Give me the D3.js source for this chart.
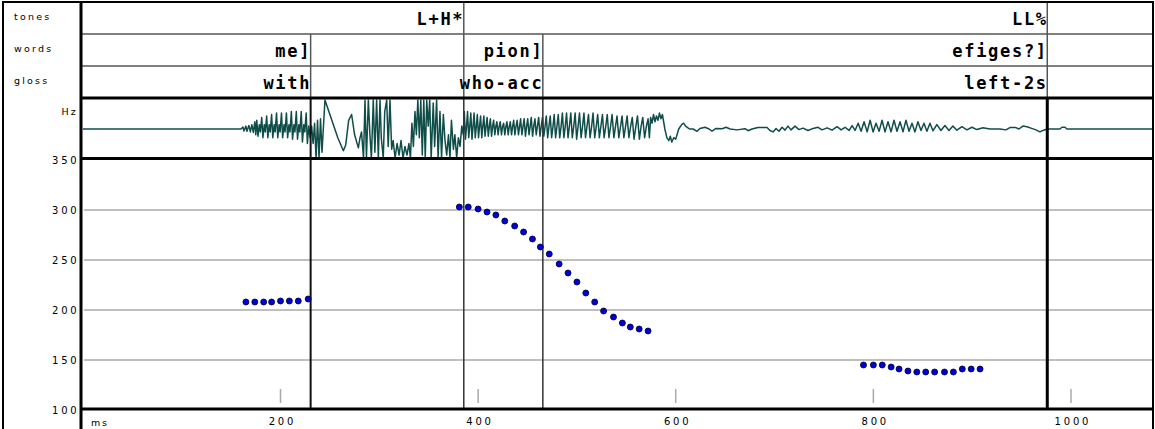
<!DOCTYPE html>
<html>
<head>
<meta charset="utf-8">
<script src="https://cdn.jsdelivr.net/npm/d3@7"></script>
<style>
  html, body { margin: 0; padding: 0; background: #fff; }
  svg { display: block; }
</style>
</head>
<body>
<svg id="chart" width="1155" height="429"></svg>
<script>
// ---- F0 track: three voiced stretches (time in ms, pitch in Hz) ----
const f0Times = [165, 174, 183, 191, 200, 209, 218, 228,
                 381, 390, 400, 409, 418, 427, 437, 446, 455, 463, 472, 482, 491, 500, 509, 518, 527, 537, 546, 554, 563, 572,
                 790, 800, 809, 818, 826, 835, 844, 853, 862, 872, 881, 890, 899, 908];
const f0Hz    = [208, 208, 208, 208, 209, 209, 209, 211,
                 303, 303, 301, 298, 295, 289, 284, 278, 271, 263, 256, 246, 237, 228, 217, 208, 199, 193, 187, 183, 181, 179,
                 145, 145, 145, 143, 141, 139, 138, 138, 138, 138, 138, 141, 141, 141];

// ---- Annotation tiers (label and right boundary in ms) ----
const tierNames   = ["tones", "words", "gloss"];
const toneLabels  = ["L+H*", "LL%"];
const toneEnds    = [385.5, 976];
const wordLabels  = ["me]", "pion]", "efiges?]"];
const wordEnds    = [230.5, 465.5, 976];
const glossLabels = ["with", "who-acc", "left-2s"];
const glossEnds   = [230.5, 465.5, 976];

// ---- Axis ticks ----
const hzTicks = [350, 300, 250, 200, 150, 100];
const hzGrid  = [300, 250, 200, 150];
const msTicks = [200, 400, 600, 800, 1000];

// ---- Speech waveform: [ms, relative amplitude] ----
const wavePoints = [
  [0,0],[160,0],
  [162,0.07],[163,-0.07],[165,0.1],[166,-0.08],[168,0.12],[169.5,-0.1],[171,0.15],[172.5,-0.12],[174,0.25],[175,-0.2],
  [176,0.3],[177.2,-0.25],[178.6,0.15],[179.6,-0.1],
  [181,0.4],[182.2,-0.3],[183.6,0.15],[184.6,-0.1],
  [186,0.45],[187.2,-0.3],[188.6,0.15],[189.6,-0.1],
  [191,0.5],[192.2,-0.3],[193.6,0.15],[194.6,-0.1],
  [196,0.55],[197.2,-0.3],[198.6,0.15],[199.6,-0.1],
  [201,0.55],[202.2,-0.3],[203.6,0.15],[204.6,-0.1],
  [206,0.55],[207.2,-0.3],[208.6,0.15],[209.6,-0.1],
  [211,0.6],[212.2,-0.35],[213.6,0.15],[214.6,-0.1],
  [216,0.6],[217.2,-0.35],[218.6,0.15],[219.6,-0.1],
  [221,0.6],[222.2,-0.45],[223.6,0.15],[224.6,-0.1],
  [226,0.55],[227.2,-0.5],[228.6,0.1],
  [230,-0.3],[231.5,0.1],[233,-0.5],[234.5,0.2],[236,-1.1],[237.5,0.3],[239,-1.1],[240.5,0.35],[242,-0.8],
  [245,1.1],[248,0.7],[253,0.2],[258,-0.3],[263.6,-0.75],[266,-0.55],[269,0.3],[272,0.5],[275,-0.2],
  [278.8,-0.65],[280.5,-0.3],[282,-0.1],[284,-1.1],[285.5,1.1],[287,-1.1],[288.9,1.1],[290.5,-0.2],
  [292,-1.1],[293.9,1.1],[295.5,-0.8],[297.3,1.1],[299,-1.1],[300.7,1.1],[302,-0.3],[304,-1.1],
  [305.5,0.6],[307.5,1.1],[309,-0.6],[310.8,1.1],[312.5,-0.7],[314,-0.4],[316,-1.1],[318,-0.5],
  [320,-0.9],[322,-0.4],[324,-1.1],[326,-0.6],[328,-0.9],[330,-0.5],[331.5,-1.0],[333,0.2],
  [334.5,-0.6],[336.1,0.6],[337.5,-0.2],[339,1.1],[340.5,-0.3],[342,1.1],[343.5,-0.9],[345,1.1],
  [346.5,-1.1],[348,1.1],[349.5,0.1],[351,1.1],[352.5,-1.1],[354.6,0.9],[356,-0.6],[358,1.1],
  [359.5,-1.1],[361.4,0.6],[363,-1.1],[364.8,0.5],[366.5,-0.4],[368.2,-0.9],[370,-0.2],[371.5,-1.0],
  [373,0.3],[375,-0.7],[376.5,-0.2],[378.3,-1.0],[380,-0.3],[381.7,-0.6],[383.5,0.1],[385,-0.2],
  [386,0.6],[387.2,-0.35],[388.3,0.1],
  [389.3,0.6],[390.5,-0.3],[391.6,0.1],
  [392.6,0.55],[393.8,-0.35],[394.9,0.1],
  [395.9,0.55],[397.1,-0.3],[398.2,0.1],
  [399.2,0.5],[400.4,-0.3],[401.5,0.1],
  [402.5,0.45],[403.7,-0.3],[404.8,0.1],
  [405.8,0.45],[407,-0.25],[408.1,0.1],
  [409.1,0.4],[410.3,-0.25],[411.4,0.1],
  [412.4,0.35],[413.6,-0.25],[414.7,0.1],
  [415.7,0.3],[416.9,-0.2],[418,0.1],
  [419,0.25],[420.2,-0.2],[421.3,0.08],
  [422.4,0.25],[423.6,-0.2],[424.7,0.08],
  [425.8,0.2],[427,-0.2],[428.1,0.08],
  [429.2,0.25],[430.4,-0.2],[431.5,0.08],
  [432.6,0.25],[433.8,-0.2],[434.9,0.08],
  [436,0.3],[437.2,-0.2],[438.3,0.08],
  [439.5,0.3],[440.8,-0.2],[442,0.1],
  [443,0.35],[444.3,-0.2],[445.5,0.1],
  [446.6,0.35],[447.9,-0.25],[449.1,0.1],
  [450.2,0.35],[451.5,-0.2],[452.7,0.1],
  [453.8,0.4],[455.1,-0.25],[456.3,0.1],
  [457.5,0.35],[458.8,-0.2],[460,0.1],
  [461.3,0.4],[462.6,-0.25],[463.9,0.1],
  [465.1,0.4],[466.5,-0.25],[467.8,0.1],
  [469,0.45],[470.4,-0.3],[471.7,0.1],
  [473,0.45],[474.4,-0.3],[475.8,0.1],
  [477,0.5],[478.4,-0.3],[479.8,0.1],
  [481.1,0.5],[482.6,-0.3],[484,0.1],
  [485.3,0.55],[486.8,-0.3],[488.2,0.1],
  [489.5,0.55],[491,-0.3],[492.4,0.1],
  [493.8,0.55],[495.3,-0.3],[496.8,0.1],
  [498.2,0.55],[499.7,-0.35],[501.2,0.1],
  [502.6,0.55],[504.2,-0.3],[505.7,0.1],
  [507.1,0.55],[508.7,-0.3],[510.2,0.1],
  [511.7,0.5],[513.3,-0.3],[514.9,0.1],
  [516.3,0.55],[518,-0.3],[519.6,0.1],
  [521,0.5],[522.7,-0.3],[524.3,0.1],
  [525.8,0.5],[527.5,-0.3],[529.2,0.1],
  [530.7,0.5],[532.4,-0.3],[534.1,0.1],
  [535.6,0.5],[537.4,-0.3],[539.1,0.1],
  [540.6,0.45],[542.4,-0.3],[544.2,0.1],
  [545.7,0.45],[547.5,-0.3],[549.3,0.1],
  [550.8,0.45],[552.6,-0.3],[554.4,0.1],
  [556,0.4],[557.8,-0.35],[559.7,0.1],
  [561.3,0.45],[563.2,-0.35],[565,0.1],
  [566.6,0.4],[568.5,-0.3],[570.3,0.1],
  [572,0.35],[573.3,-0.3],
  [574.6,0.4],[576,0.2],[577.5,0.5],[579,0.25],[580.5,0.45],[582,0.3],[583.5,0.55],[585,0.35],[586.5,0.5],
  [589,0.0],[591,-0.3],[593,-0.4],[594.5,-0.25],[596,-0.45],[598,-0.3],[600,-0.35],[603,0.0],
  [606,0.15],[608,0.2],[610,0.1],[612,0.05],[614,0],
  [617.5,0],[621.5,-0.08],[624.5,0.02],[629.6,0.06],[633.7,0],[636.7,-0.07],[640.8,0.02],[646.9,0.01],
  [650.9,0.06],[655,0],[662.1,-0.03],[670.1,0.01],[673.2,-0.06],[677.2,0],[683.3,0.05],[692.4,0.05],
  [695.4,-0.05],[698.5,-0.1],[701.5,0.02],[704.5,-0.08],[707.6,0.06],[710.6,-0.04],[713.6,0.1],[716.7,-0.03],
  [720.7,0.1],[724.8,-0.02],[728.8,0.03],[733.9,-0.05],[739,0.02],[744,0.06],[748.1,-0.03],[753.2,0.04],
  [758.2,-0.04],[763.3,0.08],[767.4,-0.03],[771.4,0.06],[775.5,-0.05],[778.5,0.12],[781.5,-0.05],[784.6,0.2],
  [787.6,-0.08],[790.6,0.25],[793.7,-0.1],[796.7,0.3],[799.7,-0.1],[802.7,0.2],[805.8,-0.08],[808.8,0.3],
  [811.8,-0.1],[814.8,0.25],[817.9,-0.1],[820.9,0.3],[823.9,-0.08],[827,0.25],[830,-0.1],[833,0.3],
  [836.1,-0.08],[839.1,0.2],[842.1,-0.1],[845.1,0.25],[848.2,-0.05],[851.2,0.2],[854.2,-0.08],[857.3,0.2],
  [860.3,-0.06],[864.3,0.15],[868.4,-0.05],[872.4,0.12],[876.5,-0.05],[880.5,0.1],[884.6,-0.04],[889.6,0.08],
  [894.7,-0.03],[899.8,0.06],[904.8,-0.02],[910.9,0.04],[918,0],[928.1,0],[934.2,-0.03],[938.2,0.05],
  [944.3,0.05],[947.3,0],[951.4,0.1],[955.4,0.08],[959.5,0.03],[964.5,-0.03],[968.6,-0.1],[971.6,-0.05],
  [975.7,0],[988.8,0],[990.9,0.06],[993.9,0.06],[995.9,0],[1083,0]
];

// ---- Layout ----
const W = 1155, H = 429;
const frameLeft = 3, colDiv = 81, plotLeft = 82.87, plotRight = 1153;
const tierTops = [2, 34, 66];
const tierBottom = 98, waveBottom = 158.5, axisLineY = 409;

const svg = d3.select("#chart");

const x  = d3.scaleLinear().domain([0, 1083]).range([plotLeft, plotRight]);
const y  = d3.scaleLinear().domain([100, 350]).range([410, 160]);
const wy = d3.scaleLinear().domain([-1, 1]).range([158, 100]).clamp(true);

// background
svg.append("rect").attr("width", W).attr("height", H).attr("fill", "#fff");

// pitch gridlines
svg.append("g").selectAll("line").data(hzGrid).join("line")
  .attr("x1", plotLeft + 1).attr("x2", plotRight)
  .attr("y1", d => y(d)).attr("y2", d => y(d))
  .attr("stroke", "#aaa").attr("stroke-width", 1.5);

// short time tick marks inside the plot
svg.append("g").selectAll("line").data(msTicks).join("line")
  .attr("x1", d => x(d)).attr("x2", d => x(d))
  .attr("y1", 389).attr("y2", 403)
  .attr("stroke", "#aaa").attr("stroke-width", 1.5);

// waveform
const waveLine = d3.line().x(d => x(d[0])).y(d => wy(d[1]));
svg.append("path").datum(wavePoints)
  .attr("d", waveLine)
  .attr("fill", "none")
  .attr("stroke", "#0f4d49")
  .attr("stroke-width", 1.5)
  .attr("stroke-linejoin", "round");

// tier separators
svg.append("g").selectAll("line").data([tierTops[1], tierTops[2]]).join("line")
  .attr("x1", colDiv).attr("x2", plotRight)
  .attr("y1", d => d).attr("y2", d => d)
  .attr("stroke", "#555").attr("stroke-width", 1.5);

// boundary lines: thin through the tiers, heavier through waveform and pitch panel
const phraseEnd = d3.max(toneEnds);
const boundaries = [
  ...toneEnds.map(t => ({ t, top: tierTops[0] })),
  ...wordEnds.filter(t => !toneEnds.includes(t)).map(t => ({ t, top: tierTops[1] }))
];
const bg = svg.append("g");
bg.selectAll("line.tier").data(boundaries).join("line")
  .attr("class", "tier")
  .attr("x1", d => x(d.t)).attr("x2", d => x(d.t))
  .attr("y1", d => d.top).attr("y2", tierBottom)
  .attr("stroke", "#555").attr("stroke-width", 1.5);
bg.selectAll("line.low").data(boundaries).join("line")
  .attr("class", "low")
  .attr("x1", d => x(d.t)).attr("x2", d => x(d.t))
  .attr("y1", tierBottom).attr("y2", axisLineY)
  .attr("stroke", d => d.t === phraseEnd ? "#000" : (d.t === wordEnds[0] ? "#111" : "#333"))
  .attr("stroke-width", d => d.t === phraseEnd ? 3 : (d.t === wordEnds[0] ? 2 : 1.5));

// frame
const frame = svg.append("g").attr("stroke", "#000");
frame.append("line").attr("x1", frameLeft).attr("x2", frameLeft).attr("y1", 1).attr("y2", H).attr("stroke-width", 2);
frame.append("line").attr("x1", frameLeft).attr("x2", plotRight + 1).attr("y1", 2).attr("y2", 2).attr("stroke-width", 2);
frame.append("line").attr("x1", plotRight).attr("x2", plotRight).attr("y1", 1).attr("y2", H).attr("stroke-width", 2);
frame.append("line").attr("x1", colDiv).attr("x2", colDiv).attr("y1", 1).attr("y2", H).attr("stroke-width", 3);
frame.selectAll("line.h").data([tierBottom, waveBottom, axisLineY]).join("line")
  .attr("class", "h")
  .attr("x1", colDiv).attr("x2", plotRight)
  .attr("y1", d => d).attr("y2", d => d)
  .attr("stroke-width", 3);

// tier labels in the left column
svg.append("g").selectAll("text").data(tierNames).join("text")
  .attr("x", 14).attr("y", (d, i) => tierTops[i] + 18)
  .attr("font-family", "DejaVu Sans").attr("font-size", 9.5)
  .attr("letter-spacing", 2.2)
  .attr("fill", "#000")
  .text(d => d);

svg.append("text")
  .attr("x", 78).attr("y", 115)
  .attr("text-anchor", "end")
  .attr("font-family", "DejaVu Sans").attr("font-size", 9.5)
  .attr("letter-spacing", 2.2)
  .text("Hz");

// tier contents, right-aligned against their boundaries
const tiers = [
  { labels: toneLabels, ends: toneEnds },
  { labels: wordLabels, ends: wordEnds },
  { labels: glossLabels, ends: glossEnds }
];
tiers.forEach((tier, i) => {
  svg.append("g").selectAll("text").data(tier.labels).join("text")
    .attr("x", (d, j) => x(tier.ends[j]) + 0.5)
    .attr("y", tierTops[i] + 23)
    .attr("text-anchor", "end")
    .attr("font-family", "DejaVu Sans Mono")
    .attr("font-weight", "bold")
    .attr("font-size", 17)
    .attr("letter-spacing", 1.7)
    .attr("fill", "#000")
    .text(d => d);
});

// pitch axis labels
const yAxis = svg.append("g")
  .attr("transform", "translate(79.5,0)")
  .call(d3.axisLeft(y).tickValues(hzTicks).tickFormat(d3.format("d")).tickSize(0).tickPadding(0));
yAxis.select(".domain").remove();
yAxis.selectAll("text")
  .attr("font-family", "DejaVu Sans").attr("font-size", 10)
  .attr("letter-spacing", 2.8).attr("fill", "#000");

// time axis labels
const xAxis = svg.append("g")
  .attr("transform", "translate(1.4,418)")
  .call(d3.axisBottom(x).tickValues(msTicks).tickFormat(d3.format("d")).tickSize(0).tickPadding(0));
xAxis.select(".domain").remove();
xAxis.selectAll("text")
  .attr("font-family", "DejaVu Sans").attr("font-size", 10)
  .attr("letter-spacing", 2.8).attr("fill", "#000");

svg.append("text")
  .attr("x", 91).attr("y", 425.5)
  .attr("font-family", "DejaVu Sans").attr("font-size", 9.5)
  .attr("letter-spacing", 1.8)
  .text("ms");

// F0 points
const f0 = f0Times.map((t, i) => ({ t, hz: f0Hz[i] }));
svg.append("g").selectAll("circle").data(f0).join("circle")
  .attr("cx", d => x(d.t)).attr("cy", d => y(d.hz))
  .attr("r", 3)
  .attr("fill", "#0000d8")
  .attr("stroke", "#00002a")
  .attr("stroke-width", 0.8);
</script>
</body>
</html>
